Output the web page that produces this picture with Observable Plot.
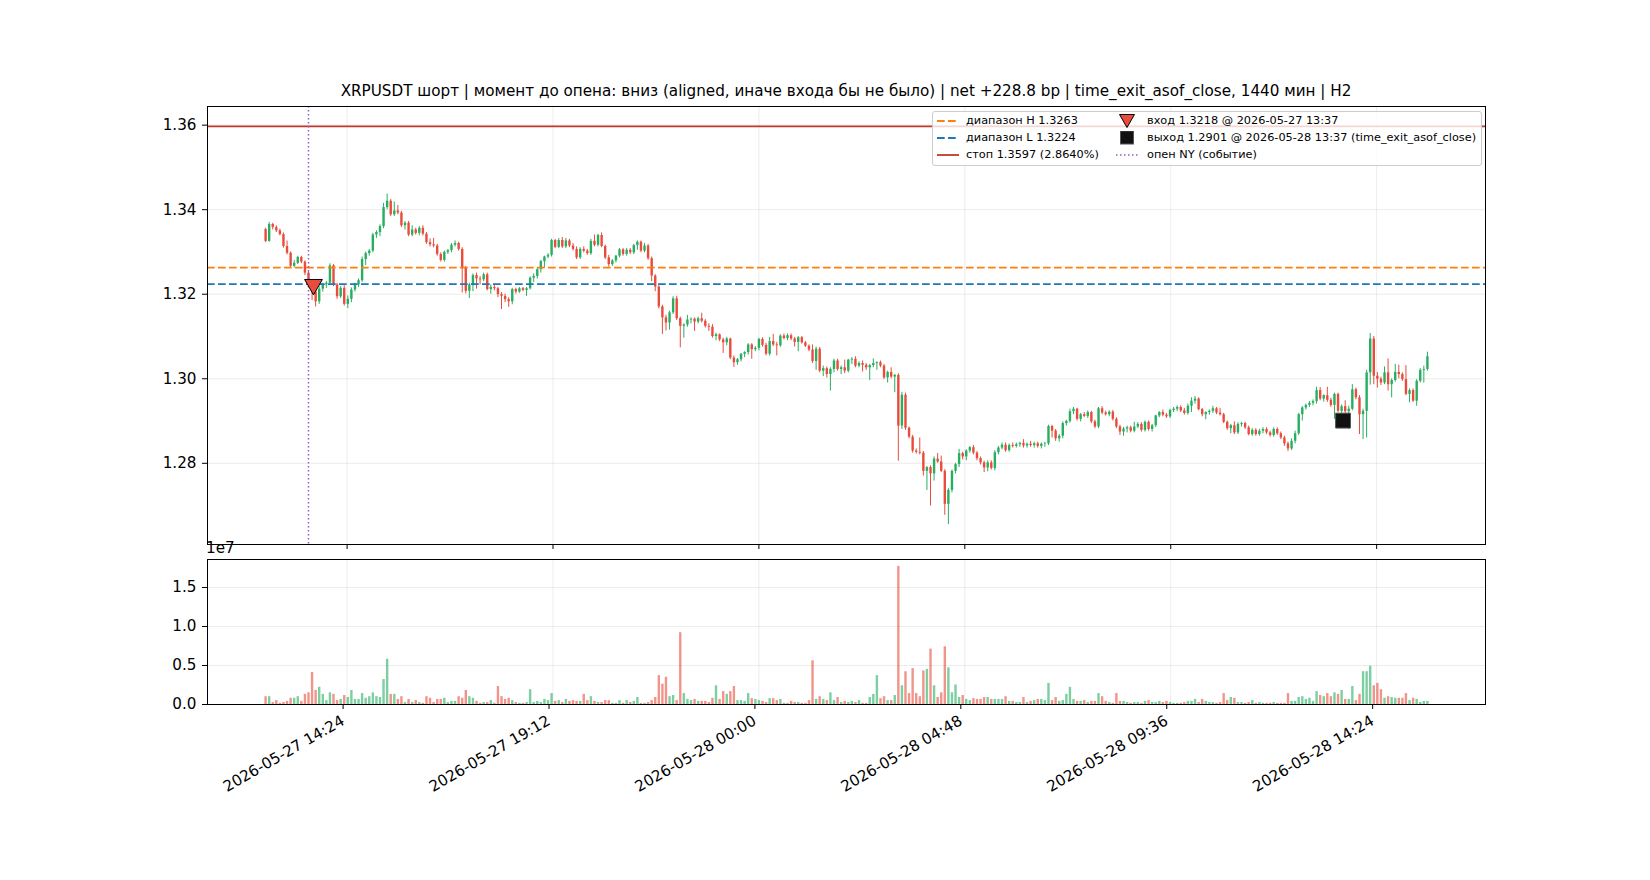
<!DOCTYPE html>
<html><head><meta charset="utf-8">
<script src="https://cdn.jsdelivr.net/npm/d3@7"></script>
<script src="https://cdn.jsdelivr.net/npm/@observablehq/plot@0.6"></script>
<style>
body{margin:0;background:#fff;font-family:"DejaVu Sans",sans-serif;color:#000;}
#fig{position:relative;width:1650px;height:880px;overflow:hidden;background:#fff;}
#title{position:absolute;left:207px;width:1278px;top:82px;text-align:center;font-size:15.2px;line-height:18px;white-space:nowrap;}
#price{position:absolute;left:0;top:0;}
#vol{position:absolute;left:0;top:540px;}
#off{position:absolute;left:206px;top:540px;font-size:15.2px;line-height:16px;}
#legend{position:absolute;left:932px;top:111px;width:548px;height:53px;background:rgba(255,255,255,0.8);border:1px solid #cccccc;border-radius:3px;font-size:11.3px;}
.li{position:absolute;height:14px;line-height:14px;white-space:nowrap;}
.li svg{position:absolute;left:0;top:0;}
.li span{position:absolute;top:0;}
</style></head>
<body><div id="fig">
<div id="title"></div>
<div id="price"></div>
<div id="vol"></div>
<div id="off">1e7</div>
<div id="legend"></div>
</div>
<script>
const titleText = "XRPUSDT шорт | момент до опена: вниз (aligned, иначе входа бы не было) | net +228.8 bp | time_exit_asof_close, 1440 мин | H2";
const startTime = "2026-05-27 12:30";
const stepMinutes = 5;
const xTickLabels = ["2026-05-27 14:24","2026-05-27 19:12","2026-05-28 00:00","2026-05-28 04:48","2026-05-28 09:36","2026-05-28 14:24"];
const yTicks = [1.28,1.30,1.32,1.34,1.36];
const volTicks = [0,5e6,10e6,15e6];

const levelH = 1.3263, levelL = 1.3224, stopLevel = 1.3597;
const entryTime = "2026-05-27 13:37", entryPrice = 1.3218;
const exitTime = "2026-05-28 13:37", exitPrice = 1.2901;
const nyOpenTime = "2026-05-27 13:30";

const legendLabels = ["диапазон H 1.3263","диапазон L 1.3224","стоп 1.3597 (2.8640%)","вход 1.3218 @ 2026-05-27 13:37","выход 1.2901 @ 2026-05-28 13:37 (time_exit_asof_close)","опен NY (событие)"];

const open = [
1.3353,1.3325,1.3365,1.3358,1.3350,1.3341,1.3313,1.3297,1.3266,1.3273,
1.3287,1.3276,1.3250,1.3226,1.3205,1.3182,1.3212,1.3222,1.3226,1.3267,
1.3222,1.3194,1.3214,1.3176,1.3188,1.3210,1.3222,1.3232,1.3282,1.3296,
1.3302,1.3340,1.3346,1.3360,1.3405,1.3420,1.3388,1.3397,1.3392,1.3362,
1.3368,1.3340,1.3352,1.3344,1.3356,1.3342,1.3322,1.3317,1.3314,1.3294,
1.3280,1.3299,1.3303,1.3316,1.3320,1.3306,1.3262,1.3207,1.3222,1.3244,
1.3236,1.3234,1.3246,1.3211,1.3216,1.3213,1.3199,1.3195,1.3187,1.3182,
1.3211,1.3205,1.3213,1.3209,1.3213,1.3238,1.3242,1.3258,1.3277,1.3288,
1.3292,1.3327,1.3311,1.3327,1.3312,1.3326,1.3314,1.3306,1.3286,1.3306,
1.3302,1.3296,1.3325,1.3316,1.3339,1.3313,1.3286,1.3270,1.3279,1.3290,
1.3305,1.3294,1.3304,1.3298,1.3315,1.3323,1.3302,1.3314,1.3284,1.3243,
1.3217,1.3170,1.3144,1.3132,1.3156,1.3189,1.3142,1.3124,1.3127,1.3139,
1.3141,1.3134,1.3142,1.3136,1.3124,1.3122,1.3100,1.3104,1.3092,1.3085,
1.3094,1.3049,1.3038,1.3045,1.3058,1.3062,1.3080,1.3069,1.3072,1.3093,
1.3079,1.3058,1.3088,1.3080,1.3078,1.3101,1.3095,1.3102,1.3094,1.3086,
1.3097,1.3085,1.3077,1.3068,1.3041,1.3070,1.3018,1.3024,1.3010,1.3022,
1.3042,1.3022,1.3026,1.3018,1.3044,1.3046,1.3030,1.3036,1.3032,1.3026,
1.3031,1.3036,1.3038,1.3030,1.3002,1.3015,1.3004,1.3008,1.2888,1.2961,
1.2883,1.2862,1.2829,1.2826,1.2824,1.2781,1.2790,1.2775,1.2810,1.2803,
1.2781,1.2703,1.2736,1.2781,1.2797,1.2823,1.2815,1.2829,1.2837,1.2824,
1.2811,1.2801,1.2789,1.2801,1.2788,1.2825,1.2836,1.2843,1.2830,1.2842,
1.2840,1.2844,1.2847,1.2841,1.2845,1.2842,1.2846,1.2840,1.2845,1.2846,
1.2887,1.2876,1.2858,1.2864,1.2894,1.2899,1.2922,1.2928,1.2904,1.2915,
1.2911,1.2920,1.2898,1.2886,1.2929,1.2919,1.2915,1.2921,1.2904,1.2886,
1.2874,1.2881,1.2884,1.2876,1.2886,1.2892,1.2878,1.2897,1.2880,1.2889,
1.2912,1.2920,1.2914,1.2910,1.2925,1.2928,1.2932,1.2924,1.2918,1.2935,
1.2947,1.2952,1.2927,1.2915,1.2920,1.2923,1.2929,1.2919,1.2915,1.2897,
1.2882,1.2889,1.2872,1.2892,1.2894,1.2884,1.2868,1.2878,1.2868,1.2876,
1.2880,1.2872,1.2866,1.2880,1.2870,1.2860,1.2846,1.2834,1.2852,1.2870,
1.2915,1.2931,1.2937,1.2942,1.2946,1.2972,1.2952,1.2960,1.2949,1.2937,
1.2963,1.2923,1.2934,1.2922,1.2928,1.2974,1.2955,1.2915,1.2923,1.3014,
1.3094,1.3006,1.2999,1.2990,1.3014,1.2986,1.2996,1.3015,1.3010,1.2998,
1.2963,1.2972,1.2947,1.2994,1.3020,1.3022];

const high = [
1.3356,1.3370,1.3368,1.3362,1.3354,1.3345,1.3326,1.3300,1.3280,1.3290,
1.3290,1.3279,1.3254,1.3232,1.3210,1.3218,1.3226,1.3230,1.3272,1.3270,
1.3226,1.3218,1.3220,1.3196,1.3215,1.3226,1.3236,1.3288,1.3300,1.3306,
1.3344,1.3350,1.3364,1.3415,1.3437,1.3424,1.3418,1.3410,1.3396,1.3372,
1.3372,1.3362,1.3356,1.3360,1.3362,1.3346,1.3331,1.3332,1.3318,1.3298,
1.3302,1.3306,1.3320,1.3326,1.3323,1.3310,1.3266,1.3226,1.3248,1.3250,
1.3242,1.3250,1.3250,1.3222,1.3222,1.3216,1.3204,1.3200,1.3192,1.3214,
1.3214,1.3216,1.3216,1.3216,1.3241,1.3248,1.3262,1.3280,1.3290,1.3296,
1.3330,1.3330,1.3332,1.3334,1.3332,1.3330,1.3320,1.3312,1.3310,1.3312,
1.3306,1.3330,1.3340,1.3342,1.3345,1.3316,1.3292,1.3282,1.3292,1.3308,
1.3308,1.3308,1.3308,1.3318,1.3326,1.3326,1.3320,1.3318,1.3288,1.3246,
1.3220,1.3174,1.3150,1.3160,1.3194,1.3195,1.3146,1.3130,1.3150,1.3144,
1.3144,1.3146,1.3155,1.3140,1.3130,1.3128,1.3108,1.3106,1.3096,1.3098,
1.3096,1.3054,1.3048,1.3060,1.3064,1.3083,1.3083,1.3076,1.3096,1.3097,
1.3084,1.3098,1.3105,1.3086,1.3104,1.3106,1.3106,1.3106,1.3098,1.3100,
1.3100,1.3088,1.3080,1.3080,1.3075,1.3074,1.3030,1.3028,1.3026,1.3046,
1.3046,1.3030,1.3044,1.3046,1.3050,1.3052,1.3040,1.3042,1.3036,1.3034,
1.3047,1.3040,1.3042,1.3034,1.3018,1.3026,1.3010,1.3012,1.2968,1.2966,
1.2886,1.2866,1.2834,1.2860,1.2828,1.2792,1.2794,1.2815,1.2823,1.2817,
1.2785,1.2740,1.2784,1.2800,1.2833,1.2826,1.2832,1.2840,1.2842,1.2828,
1.2815,1.2805,1.2806,1.2806,1.2830,1.2840,1.2848,1.2848,1.2846,1.2848,
1.2848,1.2850,1.2856,1.2848,1.2852,1.2850,1.2850,1.2848,1.2850,1.2890,
1.2890,1.2880,1.2868,1.2898,1.2902,1.2928,1.2932,1.2930,1.2918,1.2920,
1.2924,1.2923,1.2902,1.2932,1.2934,1.2923,1.2924,1.2925,1.2908,1.2890,
1.2885,1.2888,1.2888,1.2897,1.2896,1.2896,1.2900,1.2900,1.2892,1.2914,
1.2922,1.2926,1.2918,1.2928,1.2932,1.2936,1.2936,1.2930,1.2940,1.2955,
1.2958,1.2955,1.2930,1.2922,1.2926,1.2935,1.2932,1.2930,1.2918,1.2900,
1.2892,1.2898,1.2896,1.2897,1.2897,1.2888,1.2882,1.2882,1.2880,1.2884,
1.2884,1.2876,1.2884,1.2884,1.2874,1.2864,1.2850,1.2858,1.2876,1.2918,
1.2934,1.2940,1.2946,1.2950,1.2980,1.2979,1.2962,1.2980,1.2954,1.2966,
1.2966,1.2938,1.2948,1.2935,1.2986,1.2978,1.2960,1.2928,1.3020,1.3107,
1.3100,1.3015,1.3004,1.3028,1.3047,1.3000,1.3034,1.3032,1.3014,1.3031,
1.2976,1.2976,1.2998,1.3024,1.3030,1.3063];

const low = [
1.3322,1.3323,1.3352,1.3346,1.3338,1.3309,1.3293,1.3262,1.3262,1.3270,
1.3272,1.3244,1.3222,1.3185,1.3170,1.3176,1.3205,1.3214,1.3222,1.3218,
1.3188,1.3190,1.3172,1.3166,1.3180,1.3205,1.3216,1.3228,1.3268,1.3290,
1.3298,1.3332,1.3336,1.3355,1.3400,1.3384,1.3384,1.3388,1.3358,1.3352,
1.3336,1.3336,1.3340,1.3338,1.3338,1.3318,1.3312,1.3310,1.3290,1.3276,
1.3276,1.3294,1.3298,1.3312,1.3302,1.3203,1.3201,1.3190,1.3206,1.3212,
1.3222,1.3230,1.3208,1.3200,1.3208,1.3192,1.3164,1.3180,1.3169,1.3175,
1.3200,1.3202,1.3206,1.3195,1.3210,1.3228,1.3236,1.3250,1.3262,1.3284,
1.3288,1.3308,1.3308,1.3308,1.3308,1.3310,1.3302,1.3282,1.3282,1.3298,
1.3292,1.3292,1.3312,1.3312,1.3310,1.3282,1.3264,1.3266,1.3274,1.3286,
1.3290,1.3290,1.3294,1.3294,1.3304,1.3298,1.3298,1.3280,1.3230,1.3206,
1.3165,1.3105,1.3113,1.3115,1.3152,1.3138,1.3073,1.3096,1.3122,1.3130,
1.3112,1.3130,1.3132,1.3120,1.3112,1.3096,1.3090,1.3088,1.3060,1.3078,
1.3045,1.3027,1.3032,1.3040,1.3050,1.3056,1.3046,1.3064,1.3066,1.3075,
1.3054,1.3054,1.3076,1.3054,1.3074,1.3092,1.3090,1.3090,1.3075,1.3064,
1.3082,1.3074,1.3064,1.3036,1.3020,1.3014,1.3005,1.3002,1.2971,1.3014,
1.3018,1.3010,1.3012,1.3014,1.3034,1.3026,1.3026,1.3016,1.3020,1.2996,
1.3026,1.3020,1.3026,1.2998,1.2990,1.3000,1.2967,1.2805,1.2880,1.2878,
1.2858,1.2824,1.2822,1.2820,1.2770,1.2736,1.2699,1.2758,1.2800,1.2778,
1.2677,1.2655,1.2730,1.2775,1.2790,1.2808,1.2806,1.2824,1.2820,1.2806,
1.2796,1.2778,1.2780,1.2784,1.2782,1.2820,1.2832,1.2826,1.2826,1.2836,
1.2836,1.2838,1.2836,1.2836,1.2838,1.2836,1.2836,1.2834,1.2838,1.2842,
1.2860,1.2852,1.2850,1.2858,1.2888,1.2895,1.2915,1.2900,1.2898,1.2908,
1.2906,1.2894,1.2882,1.2882,1.2915,1.2912,1.2910,1.2900,1.2882,1.2866,
1.2864,1.2872,1.2872,1.2872,1.2882,1.2874,1.2874,1.2876,1.2874,1.2885,
1.2908,1.2910,1.2906,1.2906,1.2920,1.2922,1.2920,1.2914,1.2914,1.2920,
1.2940,1.2924,1.2910,1.2903,1.2914,1.2918,1.2915,1.2912,1.2894,1.2878,
1.2870,1.2868,1.2868,1.2886,1.2880,1.2865,1.2864,1.2864,1.2864,1.2870,
1.2868,1.2862,1.2862,1.2866,1.2856,1.2840,1.2828,1.2830,1.2846,1.2866,
1.2900,1.2926,1.2932,1.2936,1.2940,1.2948,1.2945,1.2944,1.2932,1.2904,
1.2920,1.2918,1.2918,1.2880,1.2924,1.2950,1.2868,1.2856,1.2860,1.2985,
1.2986,1.2978,1.2984,1.2986,1.2971,1.2955,1.2992,1.3000,1.2994,1.2960,
1.2943,1.2944,1.2935,1.2990,1.2990,1.3018];

const close = [
1.3325,1.3365,1.3358,1.3350,1.3341,1.3313,1.3297,1.3266,1.3273,1.3287,
1.3276,1.3250,1.3226,1.3205,1.3182,1.3212,1.3222,1.3226,1.3267,1.3222,
1.3194,1.3214,1.3176,1.3188,1.3210,1.3222,1.3232,1.3282,1.3296,1.3302,
1.3340,1.3346,1.3360,1.3405,1.3420,1.3388,1.3397,1.3392,1.3362,1.3368,
1.3340,1.3352,1.3344,1.3356,1.3342,1.3322,1.3317,1.3314,1.3294,1.3280,
1.3299,1.3303,1.3316,1.3320,1.3306,1.3262,1.3207,1.3222,1.3244,1.3236,
1.3234,1.3246,1.3211,1.3216,1.3213,1.3199,1.3195,1.3187,1.3182,1.3211,
1.3205,1.3213,1.3209,1.3213,1.3238,1.3242,1.3258,1.3277,1.3288,1.3292,
1.3327,1.3311,1.3327,1.3312,1.3326,1.3314,1.3306,1.3286,1.3306,1.3302,
1.3296,1.3325,1.3316,1.3339,1.3313,1.3286,1.3270,1.3279,1.3290,1.3305,
1.3294,1.3304,1.3298,1.3315,1.3323,1.3302,1.3314,1.3284,1.3243,1.3217,
1.3170,1.3144,1.3132,1.3156,1.3189,1.3142,1.3124,1.3127,1.3139,1.3141,
1.3134,1.3142,1.3136,1.3124,1.3122,1.3100,1.3104,1.3092,1.3085,1.3094,
1.3049,1.3038,1.3045,1.3058,1.3062,1.3080,1.3069,1.3072,1.3093,1.3079,
1.3058,1.3088,1.3080,1.3078,1.3101,1.3095,1.3102,1.3094,1.3086,1.3097,
1.3085,1.3077,1.3068,1.3041,1.3070,1.3018,1.3024,1.3010,1.3022,1.3042,
1.3022,1.3026,1.3018,1.3044,1.3046,1.3030,1.3036,1.3032,1.3026,1.3031,
1.3036,1.3038,1.3030,1.3002,1.3015,1.3004,1.3008,1.2888,1.2961,1.2883,
1.2862,1.2829,1.2826,1.2824,1.2781,1.2790,1.2775,1.2810,1.2803,1.2781,
1.2703,1.2736,1.2781,1.2797,1.2823,1.2815,1.2829,1.2837,1.2824,1.2811,
1.2801,1.2789,1.2801,1.2788,1.2825,1.2836,1.2843,1.2830,1.2842,1.2840,
1.2844,1.2847,1.2841,1.2845,1.2842,1.2846,1.2840,1.2845,1.2846,1.2887,
1.2876,1.2858,1.2864,1.2894,1.2899,1.2922,1.2928,1.2904,1.2915,1.2911,
1.2920,1.2898,1.2886,1.2929,1.2919,1.2915,1.2921,1.2904,1.2886,1.2874,
1.2881,1.2884,1.2876,1.2886,1.2892,1.2878,1.2897,1.2880,1.2889,1.2912,
1.2920,1.2914,1.2910,1.2925,1.2928,1.2932,1.2924,1.2918,1.2935,1.2947,
1.2952,1.2927,1.2915,1.2920,1.2923,1.2929,1.2919,1.2915,1.2897,1.2882,
1.2889,1.2872,1.2892,1.2894,1.2884,1.2868,1.2878,1.2868,1.2876,1.2880,
1.2872,1.2866,1.2880,1.2870,1.2860,1.2846,1.2834,1.2852,1.2870,1.2915,
1.2931,1.2937,1.2942,1.2946,1.2972,1.2952,1.2960,1.2949,1.2937,1.2963,
1.2923,1.2934,1.2922,1.2928,1.2974,1.2955,1.2915,1.2923,1.3014,1.3094,
1.3006,1.2999,1.2990,1.3014,1.2986,1.2996,1.3015,1.3010,1.2998,1.2963,
1.2972,1.2947,1.2994,1.3020,1.3022,1.3052];

// volume in millions
const volumeM = [
1.0,1.0,0.25,0.5,0.15,0.25,0.4,0.8,0.8,1.0,
0.4,1.3,1.5,4.1,1.8,2.2,1.3,0.5,1.5,1.3,
0.5,0.65,1.15,0.9,1.8,0.65,0.65,1.4,0.8,1.0,
1.5,1.0,0.9,3.2,5.8,1.3,1.3,0.65,1.0,0.25,
0.65,0.25,0.5,0.25,0.15,1.0,0.8,0.25,0.65,0.65,
0.8,0.25,0.4,0.4,1.0,0.8,1.8,1.0,0.8,0.4,
0.15,0.25,0.25,0.5,0.15,2.3,1.0,0.65,0.8,0.5,
0.25,0.15,0.15,0.25,1.9,0.25,0.4,0.25,0.65,0.5,
1.4,0.4,0.5,0.25,0.65,0.4,0.5,0.4,0.4,1.3,
0.5,1.0,0.4,0.25,0.25,0.5,0.5,0.15,0.15,0.5,
0.15,0.5,0.25,0.4,0.9,0.15,0.15,0.25,0.5,0.9,
3.7,2.6,3.5,1.0,1.15,0.5,9.2,1.4,0.65,0.5,
0.65,0.4,0.4,0.4,0.25,0.8,2.4,0.65,1.65,1.3,
1.65,2.3,0.5,0.5,0.4,1.4,0.75,0.65,0.5,0.4,
0.25,0.75,0.75,0.5,0.65,0.15,0.15,0.4,0.25,0.25,
0.15,0.15,0.5,5.6,0.65,1.0,0.65,0.5,1.5,0.5,
0.9,0.25,0.4,0.25,0.4,0.25,0.5,0.15,0.15,0.9,
1.3,3.7,0.75,1.0,0.5,0.5,1.15,17.7,2.4,4.2,
1.4,4.6,1.4,1.0,4.3,4.5,7.1,2.4,0.9,1.5,
7.4,4.7,1.5,2.5,0.9,1.15,0.65,0.5,0.75,0.65,
0.65,0.9,0.9,0.65,0.65,0.65,0.65,1.0,0.4,0.4,
0.25,0.25,0.9,0.25,0.4,0.5,0.65,0.65,0.5,2.7,
0.5,0.9,0.4,0.5,1.3,2.2,0.65,0.4,0.4,0.5,
0.25,0.4,0.4,1.4,1.0,0.4,0.25,0.15,1.4,0.4,
0.4,0.25,0.15,0.25,0.25,0.15,0.4,0.5,0.25,0.25,
0.4,0.25,0.4,0.25,0.15,0.15,0.15,0.25,0.4,0.4,
0.65,0.25,0.65,0.4,0.25,0.25,0.15,0.25,1.4,0.5,
0.9,0.8,0.25,0.25,0.15,0.25,0.5,0.15,0.25,0.15,
0.15,0.15,0.25,0.15,0.15,0.15,1.4,0.4,0.4,0.9,
1.0,0.65,0.8,0.4,1.65,1.15,1.0,1.4,1.0,1.5,
1.3,1.8,0.65,0.65,2.3,0.5,1.3,4.2,4.2,4.9,
2.4,2.7,1.9,0.8,1.0,0.9,0.8,0.8,0.8,1.4,
0.5,0.8,0.65,0.25,0.4,0.4];

const UP = "#27ae60", DOWN = "#e74c3c";
const parseT = s => new Date(s.replace(" ", "T") + ":00Z");
const t0 = parseT(startTime).getTime();
const candles = close.map((c, i) => ({
  t: new Date(t0 + i * stepMinutes * 60000),
  o: open[i], h: high[i], l: low[i], c, v: volumeM[i] * 1e6,
  up: c >= open[i]
}));
const n = candles.length;
const span = (n - 1) * stepMinutes * 60000;
const xDomain = [new Date(t0 - 0.05 * span), new Date(t0 + 1.05 * span)];
const xTicks = xTickLabels.map(parseT);
const allP = low.concat(high, [stopLevel]);
const pMin = d3.min(allP), pMax = d3.max(allP), pPad = (pMax - pMin) * 0.05;
const vMax = d3.max(candles, d => d.v);

document.getElementById("title").textContent = titleText;

const font = {fontFamily: "'DejaVu Sans', sans-serif", fontSize: "15.2px", color: "#000", background: "transparent", overflow: "visible"};
const gridStyle = {stroke: "#b0b0b0", strokeOpacity: 0.3, strokeWidth: 0.8};

const price = Plot.plot({
  width: 1650, height: 560,
  marginLeft: 207, marginRight: 165, marginTop: 106, marginBottom: 16,
  style: font,
  x: {type: "utc", domain: xDomain},
  y: {domain: [pMin - pPad, pMax + pPad]},
  marks: [
    Plot.gridX(xTicks, gridStyle),
    Plot.gridY(yTicks, gridStyle),
    Plot.ruleX(candles, {x: "t", y1: "l", y2: "h", stroke: d => d.up ? UP : DOWN, strokeWidth: 1}),
    Plot.ruleX(candles, {x: "t", y1: "o", y2: "c", stroke: d => d.up ? UP : DOWN, strokeWidth: 2.4}),
    Plot.ruleY([levelH], {stroke: "#ff7f0e", strokeWidth: 1.8, strokeDasharray: "7.7,3.3"}),
    Plot.ruleY([levelL], {stroke: "#1f77b4", strokeWidth: 1.8, strokeDasharray: "7.7,3.3"}),
    Plot.ruleY([stopLevel], {stroke: "#c0392b", strokeWidth: 1.8}),
    Plot.ruleX([parseT(nyOpenTime)], {stroke: "#9b59b6", strokeWidth: 1.5, strokeDasharray: "1.5,2.5"}),
    Plot.dot([{t: parseT(entryTime), p: entryPrice}], {x: "t", y: "p", symbol: "triangle", rotate: 180, r: 6.6, dy: -2, fill: DOWN, stroke: "#000", strokeWidth: 1}),
    Plot.dot([{t: parseT(exitTime), p: exitPrice}], {x: "t", y: "p", symbol: "square", r: 8.4, fill: "#111", stroke: "#555", strokeWidth: 1}),
    Plot.frame({stroke: "#000", strokeWidth: 1}),
    Plot.axisX({ticks: xTicks, tickFormat: () => "", tickSize: 5, label: null}),
    Plot.axisY({ticks: yTicks, tickFormat: d3.format(".2f"), tickSize: 5, tickPadding: 6, label: null})
  ]
});
document.getElementById("price").appendChild(price);

const vol = Plot.plot({
  width: 1650, height: 300,
  marginLeft: 207, marginRight: 165, marginTop: 19, marginBottom: 136,
  style: font,
  x: {type: "utc", domain: xDomain},
  y: {domain: [0, vMax * 1.05]},
  marks: [
    Plot.gridX(xTicks, gridStyle),
    Plot.gridY(volTicks, gridStyle),
    Plot.ruleX(candles, {x: "t", y1: 0, y2: "v", stroke: d => d.up ? UP : DOWN, strokeOpacity: 0.6, strokeWidth: 2.4}),
    Plot.frame({stroke: "#000", strokeWidth: 1}),
    Plot.axisX({ticks: xTicks, tickFormat: d3.utcFormat("%Y-%m-%d %H:%M"), tickRotate: -30, tickSize: 5, tickPadding: 10, dx: -4, label: null}),
    Plot.axisY({ticks: volTicks, tickFormat: d => (d / 1e7).toFixed(1), tickSize: 5, tickPadding: 6, label: null})
  ]
});
document.getElementById("vol").appendChild(vol);

// legend
const legend = document.getElementById("legend");
const rowsY = [2, 18.5, 36];
function handleSvg(kind) {
  const w = 26, h = 14;
  let inner = "";
  if (kind === "H") inner = `<line x1="2" x2="24" y1="7" y2="7" stroke="#ff7f0e" stroke-width="1.8" stroke-dasharray="7.7,3.3"/>`;
  if (kind === "L") inner = `<line x1="2" x2="24" y1="7" y2="7" stroke="#1f77b4" stroke-width="1.8" stroke-dasharray="7.7,3.3"/>`;
  if (kind === "S") inner = `<line x1="2" x2="24" y1="7" y2="7" stroke="#c0392b" stroke-width="1.8"/>`;
  if (kind === "E") inner = `<path d="M5.5,0.5 L20.5,0.5 L13,13.5 Z" fill="${DOWN}" stroke="#000" stroke-width="1"/>`;
  if (kind === "X") inner = `<rect x="6.5" y="0" width="13" height="13" fill="#111" stroke="#555" stroke-width="1"/>`;
  if (kind === "N") inner = `<line x1="2" x2="24" y1="7" y2="7" stroke="#9b59b6" stroke-width="1.5" stroke-dasharray="1.5,2.5"/>`;
  return `<svg width="${w}" height="${h}">${inner}</svg>`;
}
const kinds = ["H", "L", "S", "E", "X", "N"];
kinds.forEach((k, i) => {
  const col = Math.floor(i / 3), row = i % 3;
  const div = document.createElement("div");
  div.className = "li";
  div.style.left = (col === 0 ? 2 : 181) + "px";
  div.style.top = rowsY[row] + "px";
  div.innerHTML = handleSvg(k) + `<span style="left:${col === 0 ? 31 : 33}px">${legendLabels[i]}</span>`;
  legend.appendChild(div);
});
</script>
</body></html>
